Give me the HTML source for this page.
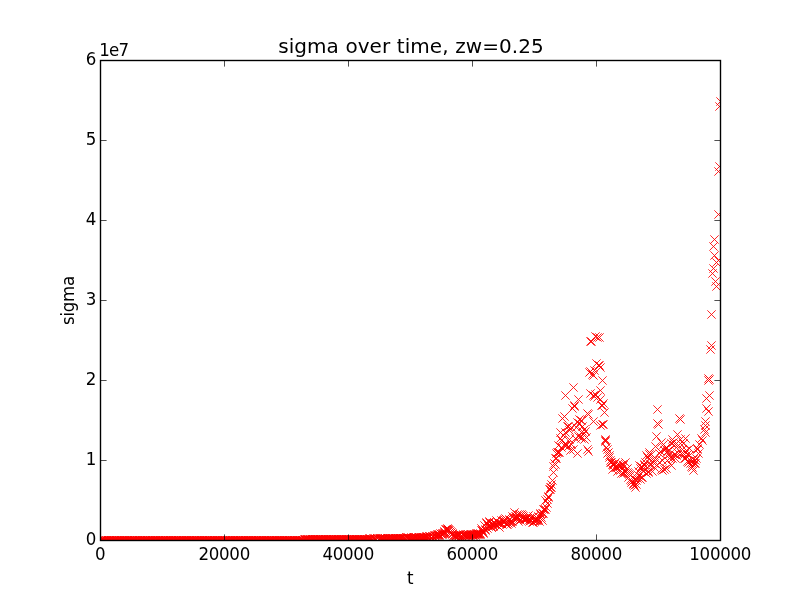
<!DOCTYPE html>
<html><head><meta charset="utf-8"><title>sigma over time</title>
<style>
html,body{margin:0;padding:0;background:#fff;}
body{width:800px;height:600px;overflow:hidden;position:relative;}
svg{position:absolute;left:0;top:0;display:block;}
text{font-family:"DejaVu Sans","Liberation Sans",sans-serif;fill:#000;}
.tk{font-size:16.67px;letter-spacing:-0.3px;}
.tt{font-size:20px;letter-spacing:0.08px;}
</style></head><body>
<svg width="800" height="600" viewBox="0 0 800 600">
<defs>
<g id="m"><path d="M-4.17,-4.17L4.17,4.17M-4.17,4.17L4.17,-4.17" stroke="#ff0000" stroke-width="0.85" fill="none"/></g>
<clipPath id="c"><rect x="100" y="60" width="620.5" height="480.5"/></clipPath>
</defs>
<rect width="800" height="600" fill="#fff"/>
<g clip-path="url(#c)">
<use href="#m" x="100.5" y="540.5"/>
<use href="#m" x="100.5" y="540.5"/>
<use href="#m" x="101.5" y="540.5"/>
<use href="#m" x="101.5" y="540.5"/>
<use href="#m" x="102.5" y="540.5"/>
<use href="#m" x="103.5" y="540.5"/>
<use href="#m" x="103.5" y="540.5"/>
<use href="#m" x="104.5" y="540.5"/>
<use href="#m" x="104.5" y="540.5"/>
<use href="#m" x="105.5" y="540.5"/>
<use href="#m" x="106.5" y="540.5"/>
<use href="#m" x="106.5" y="540.5"/>
<use href="#m" x="107.5" y="540.5"/>
<use href="#m" x="108.5" y="540.5"/>
<use href="#m" x="108.5" y="540.5"/>
<use href="#m" x="109.5" y="540.5"/>
<use href="#m" x="109.5" y="540.5"/>
<use href="#m" x="110.5" y="540.5"/>
<use href="#m" x="111.5" y="540.5"/>
<use href="#m" x="111.5" y="540.5"/>
<use href="#m" x="112.5" y="540.5"/>
<use href="#m" x="113.5" y="540.5"/>
<use href="#m" x="113.5" y="540.5"/>
<use href="#m" x="114.5" y="540.5"/>
<use href="#m" x="114.5" y="540.5"/>
<use href="#m" x="115.5" y="540.5"/>
<use href="#m" x="116.5" y="540.5"/>
<use href="#m" x="116.5" y="540.5"/>
<use href="#m" x="117.5" y="540.5"/>
<use href="#m" x="117.5" y="540.5"/>
<use href="#m" x="118.5" y="540.5"/>
<use href="#m" x="119.5" y="540.5"/>
<use href="#m" x="119.5" y="540.5"/>
<use href="#m" x="120.5" y="540.5"/>
<use href="#m" x="121.5" y="540.5"/>
<use href="#m" x="121.5" y="540.5"/>
<use href="#m" x="122.5" y="540.5"/>
<use href="#m" x="122.5" y="540.5"/>
<use href="#m" x="123.5" y="540.5"/>
<use href="#m" x="124.5" y="540.5"/>
<use href="#m" x="124.5" y="540.5"/>
<use href="#m" x="125.5" y="540.5"/>
<use href="#m" x="126.5" y="540.5"/>
<use href="#m" x="126.5" y="540.5"/>
<use href="#m" x="127.5" y="540.5"/>
<use href="#m" x="127.5" y="540.5"/>
<use href="#m" x="128.5" y="540.5"/>
<use href="#m" x="129.5" y="540.5"/>
<use href="#m" x="129.5" y="540.5"/>
<use href="#m" x="130.5" y="540.5"/>
<use href="#m" x="131.5" y="540.5"/>
<use href="#m" x="131.5" y="540.5"/>
<use href="#m" x="132.5" y="540.5"/>
<use href="#m" x="132.5" y="540.5"/>
<use href="#m" x="133.5" y="540.5"/>
<use href="#m" x="134.5" y="540.5"/>
<use href="#m" x="134.5" y="540.5"/>
<use href="#m" x="135.5" y="540.5"/>
<use href="#m" x="135.5" y="540.5"/>
<use href="#m" x="136.5" y="540.5"/>
<use href="#m" x="137.5" y="540.5"/>
<use href="#m" x="137.5" y="540.5"/>
<use href="#m" x="138.5" y="540.5"/>
<use href="#m" x="139.5" y="540.5"/>
<use href="#m" x="139.5" y="540.5"/>
<use href="#m" x="140.5" y="540.5"/>
<use href="#m" x="140.5" y="540.5"/>
<use href="#m" x="141.5" y="540.5"/>
<use href="#m" x="142.5" y="540.5"/>
<use href="#m" x="142.5" y="540.5"/>
<use href="#m" x="143.5" y="540.5"/>
<use href="#m" x="144.5" y="540.5"/>
<use href="#m" x="144.5" y="540.5"/>
<use href="#m" x="145.5" y="540.5"/>
<use href="#m" x="145.5" y="540.5"/>
<use href="#m" x="146.5" y="540.5"/>
<use href="#m" x="147.5" y="540.5"/>
<use href="#m" x="147.5" y="540.5"/>
<use href="#m" x="148.5" y="540.5"/>
<use href="#m" x="148.5" y="540.5"/>
<use href="#m" x="149.5" y="540.5"/>
<use href="#m" x="150.5" y="540.5"/>
<use href="#m" x="150.5" y="540.5"/>
<use href="#m" x="151.5" y="540.5"/>
<use href="#m" x="152.5" y="540.5"/>
<use href="#m" x="152.5" y="540.5"/>
<use href="#m" x="153.5" y="540.5"/>
<use href="#m" x="153.5" y="540.5"/>
<use href="#m" x="154.5" y="540.5"/>
<use href="#m" x="155.5" y="540.5"/>
<use href="#m" x="155.5" y="540.5"/>
<use href="#m" x="156.5" y="540.5"/>
<use href="#m" x="157.5" y="540.5"/>
<use href="#m" x="157.5" y="540.5"/>
<use href="#m" x="158.5" y="540.5"/>
<use href="#m" x="158.5" y="540.5"/>
<use href="#m" x="159.5" y="540.5"/>
<use href="#m" x="160.5" y="540.5"/>
<use href="#m" x="160.5" y="540.5"/>
<use href="#m" x="161.5" y="540.5"/>
<use href="#m" x="162.5" y="540.5"/>
<use href="#m" x="162.5" y="540.5"/>
<use href="#m" x="163.5" y="540.5"/>
<use href="#m" x="163.5" y="540.5"/>
<use href="#m" x="164.5" y="540.5"/>
<use href="#m" x="165.5" y="540.5"/>
<use href="#m" x="165.5" y="540.5"/>
<use href="#m" x="166.5" y="540.5"/>
<use href="#m" x="166.5" y="540.5"/>
<use href="#m" x="167.5" y="540.5"/>
<use href="#m" x="168.5" y="540.5"/>
<use href="#m" x="168.5" y="540.5"/>
<use href="#m" x="169.5" y="540.5"/>
<use href="#m" x="170.5" y="540.5"/>
<use href="#m" x="170.5" y="540.5"/>
<use href="#m" x="171.5" y="540.5"/>
<use href="#m" x="171.5" y="540.5"/>
<use href="#m" x="172.5" y="540.5"/>
<use href="#m" x="173.5" y="540.5"/>
<use href="#m" x="173.5" y="540.5"/>
<use href="#m" x="174.5" y="540.5"/>
<use href="#m" x="175.5" y="540.5"/>
<use href="#m" x="175.5" y="540.5"/>
<use href="#m" x="176.5" y="540.5"/>
<use href="#m" x="176.5" y="540.5"/>
<use href="#m" x="177.5" y="540.5"/>
<use href="#m" x="178.5" y="540.5"/>
<use href="#m" x="178.5" y="540.5"/>
<use href="#m" x="179.5" y="540.5"/>
<use href="#m" x="179.5" y="540.5"/>
<use href="#m" x="180.5" y="540.5"/>
<use href="#m" x="181.5" y="540.5"/>
<use href="#m" x="181.5" y="540.5"/>
<use href="#m" x="182.5" y="540.5"/>
<use href="#m" x="183.5" y="540.5"/>
<use href="#m" x="183.5" y="540.5"/>
<use href="#m" x="184.5" y="540.5"/>
<use href="#m" x="184.5" y="540.5"/>
<use href="#m" x="185.5" y="540.5"/>
<use href="#m" x="186.5" y="540.5"/>
<use href="#m" x="186.5" y="540.5"/>
<use href="#m" x="187.5" y="540.5"/>
<use href="#m" x="188.5" y="540.5"/>
<use href="#m" x="188.5" y="540.5"/>
<use href="#m" x="189.5" y="540.5"/>
<use href="#m" x="189.5" y="540.5"/>
<use href="#m" x="190.5" y="540.5"/>
<use href="#m" x="191.5" y="540.5"/>
<use href="#m" x="191.5" y="540.5"/>
<use href="#m" x="192.5" y="540.5"/>
<use href="#m" x="193.5" y="540.5"/>
<use href="#m" x="193.5" y="540.5"/>
<use href="#m" x="194.5" y="540.5"/>
<use href="#m" x="194.5" y="540.5"/>
<use href="#m" x="195.5" y="540.5"/>
<use href="#m" x="196.5" y="540.5"/>
<use href="#m" x="196.5" y="540.5"/>
<use href="#m" x="197.5" y="540.5"/>
<use href="#m" x="197.5" y="540.5"/>
<use href="#m" x="198.5" y="540.5"/>
<use href="#m" x="199.5" y="540.5"/>
<use href="#m" x="199.5" y="540.5"/>
<use href="#m" x="200.5" y="540.5"/>
<use href="#m" x="201.5" y="540.5"/>
<use href="#m" x="201.5" y="540.5"/>
<use href="#m" x="202.5" y="540.5"/>
<use href="#m" x="202.5" y="540.5"/>
<use href="#m" x="203.5" y="540.5"/>
<use href="#m" x="204.5" y="540.5"/>
<use href="#m" x="204.5" y="540.5"/>
<use href="#m" x="205.5" y="540.5"/>
<use href="#m" x="206.5" y="540.5"/>
<use href="#m" x="206.5" y="540.5"/>
<use href="#m" x="207.5" y="540.5"/>
<use href="#m" x="207.5" y="540.5"/>
<use href="#m" x="208.5" y="540.5"/>
<use href="#m" x="209.5" y="540.5"/>
<use href="#m" x="209.5" y="540.5"/>
<use href="#m" x="210.5" y="540.5"/>
<use href="#m" x="210.5" y="540.5"/>
<use href="#m" x="211.5" y="540.5"/>
<use href="#m" x="212.5" y="540.5"/>
<use href="#m" x="212.5" y="540.5"/>
<use href="#m" x="213.5" y="540.5"/>
<use href="#m" x="214.5" y="540.5"/>
<use href="#m" x="214.5" y="540.5"/>
<use href="#m" x="215.5" y="540.5"/>
<use href="#m" x="215.5" y="540.5"/>
<use href="#m" x="216.5" y="540.5"/>
<use href="#m" x="217.5" y="540.5"/>
<use href="#m" x="217.5" y="540.5"/>
<use href="#m" x="218.5" y="540.5"/>
<use href="#m" x="219.5" y="540.5"/>
<use href="#m" x="219.5" y="540.5"/>
<use href="#m" x="220.5" y="540.5"/>
<use href="#m" x="220.5" y="540.5"/>
<use href="#m" x="221.5" y="540.5"/>
<use href="#m" x="222.5" y="540.5"/>
<use href="#m" x="222.5" y="540.5"/>
<use href="#m" x="223.5" y="540.5"/>
<use href="#m" x="224.5" y="540.5"/>
<use href="#m" x="224.5" y="540.5"/>
<use href="#m" x="225.5" y="540.5"/>
<use href="#m" x="225.5" y="540.5"/>
<use href="#m" x="226.5" y="540.5"/>
<use href="#m" x="227.5" y="540.5"/>
<use href="#m" x="227.5" y="540.5"/>
<use href="#m" x="228.5" y="540.5"/>
<use href="#m" x="228.5" y="540.5"/>
<use href="#m" x="229.5" y="540.5"/>
<use href="#m" x="230.5" y="540.5"/>
<use href="#m" x="230.5" y="540.5"/>
<use href="#m" x="231.5" y="540.5"/>
<use href="#m" x="232.5" y="540.5"/>
<use href="#m" x="232.5" y="540.5"/>
<use href="#m" x="233.5" y="540.5"/>
<use href="#m" x="233.5" y="540.5"/>
<use href="#m" x="234.5" y="540.5"/>
<use href="#m" x="235.5" y="540.5"/>
<use href="#m" x="235.5" y="540.5"/>
<use href="#m" x="236.5" y="540.5"/>
<use href="#m" x="237.5" y="540.5"/>
<use href="#m" x="237.5" y="540.5"/>
<use href="#m" x="238.5" y="540.5"/>
<use href="#m" x="238.5" y="540.5"/>
<use href="#m" x="239.5" y="540.5"/>
<use href="#m" x="240.5" y="540.5"/>
<use href="#m" x="240.5" y="540.5"/>
<use href="#m" x="241.5" y="540.5"/>
<use href="#m" x="241.5" y="540.5"/>
<use href="#m" x="242.5" y="540.5"/>
<use href="#m" x="243.5" y="540.5"/>
<use href="#m" x="243.5" y="540.5"/>
<use href="#m" x="244.5" y="540.5"/>
<use href="#m" x="245.5" y="540.5"/>
<use href="#m" x="245.5" y="540.5"/>
<use href="#m" x="246.5" y="540.5"/>
<use href="#m" x="246.5" y="540.5"/>
<use href="#m" x="247.5" y="540.5"/>
<use href="#m" x="248.5" y="540.5"/>
<use href="#m" x="248.5" y="540.5"/>
<use href="#m" x="249.5" y="540.5"/>
<use href="#m" x="250.5" y="540.5"/>
<use href="#m" x="250.5" y="540.5"/>
<use href="#m" x="251.5" y="540.5"/>
<use href="#m" x="251.5" y="540.5"/>
<use href="#m" x="252.5" y="540.5"/>
<use href="#m" x="253.5" y="540.5"/>
<use href="#m" x="253.5" y="540.5"/>
<use href="#m" x="254.5" y="540.5"/>
<use href="#m" x="255.5" y="540.5"/>
<use href="#m" x="255.5" y="540.5"/>
<use href="#m" x="256.5" y="540.5"/>
<use href="#m" x="256.5" y="540.5"/>
<use href="#m" x="257.5" y="540.5"/>
<use href="#m" x="258.5" y="540.5"/>
<use href="#m" x="258.5" y="540.5"/>
<use href="#m" x="259.5" y="540.5"/>
<use href="#m" x="259.5" y="540.5"/>
<use href="#m" x="260.5" y="540.5"/>
<use href="#m" x="261.5" y="540.5"/>
<use href="#m" x="261.5" y="540.5"/>
<use href="#m" x="262.5" y="540.5"/>
<use href="#m" x="263.5" y="540.5"/>
<use href="#m" x="263.5" y="540.5"/>
<use href="#m" x="264.5" y="540.5"/>
<use href="#m" x="264.5" y="540.5"/>
<use href="#m" x="265.5" y="540.5"/>
<use href="#m" x="266.5" y="540.5"/>
<use href="#m" x="266.5" y="540.5"/>
<use href="#m" x="267.5" y="540.5"/>
<use href="#m" x="268.5" y="540.5"/>
<use href="#m" x="268.5" y="540.5"/>
<use href="#m" x="269.5" y="540.5"/>
<use href="#m" x="269.5" y="540.5"/>
<use href="#m" x="270.5" y="540.5"/>
<use href="#m" x="271.5" y="540.5"/>
<use href="#m" x="271.5" y="540.5"/>
<use href="#m" x="272.5" y="540.5"/>
<use href="#m" x="272.5" y="540.5"/>
<use href="#m" x="273.5" y="540.5"/>
<use href="#m" x="274.5" y="540.5"/>
<use href="#m" x="274.5" y="540.5"/>
<use href="#m" x="275.5" y="540.5"/>
<use href="#m" x="276.5" y="540.5"/>
<use href="#m" x="276.5" y="540.5"/>
<use href="#m" x="277.5" y="540.5"/>
<use href="#m" x="277.5" y="540.5"/>
<use href="#m" x="278.5" y="540.5"/>
<use href="#m" x="279.5" y="540.5"/>
<use href="#m" x="279.5" y="540.5"/>
<use href="#m" x="280.5" y="540.5"/>
<use href="#m" x="281.5" y="540.5"/>
<use href="#m" x="281.5" y="540.5"/>
<use href="#m" x="282.5" y="540.5"/>
<use href="#m" x="282.5" y="540.5"/>
<use href="#m" x="283.5" y="540.5"/>
<use href="#m" x="284.5" y="540.5"/>
<use href="#m" x="284.5" y="540.5"/>
<use href="#m" x="285.5" y="540.5"/>
<use href="#m" x="286.5" y="540.5"/>
<use href="#m" x="286.5" y="540.5"/>
<use href="#m" x="287.5" y="540.5"/>
<use href="#m" x="287.5" y="540.5"/>
<use href="#m" x="288.5" y="540.5"/>
<use href="#m" x="289.5" y="540.5"/>
<use href="#m" x="289.5" y="540.5"/>
<use href="#m" x="290.5" y="540.5"/>
<use href="#m" x="290.5" y="540.5"/>
<use href="#m" x="291.5" y="540.5"/>
<use href="#m" x="292.5" y="540.5"/>
<use href="#m" x="292.5" y="540.5"/>
<use href="#m" x="293.5" y="540.5"/>
<use href="#m" x="294.5" y="540.5"/>
<use href="#m" x="294.5" y="540.5"/>
<use href="#m" x="295.5" y="540.5"/>
<use href="#m" x="295.5" y="540.5"/>
<use href="#m" x="296.5" y="540.5"/>
<use href="#m" x="297.5" y="540.5"/>
<use href="#m" x="297.5" y="540.5"/>
<use href="#m" x="298.5" y="540.5"/>
<use href="#m" x="299.5" y="540.5"/>
<use href="#m" x="299.5" y="540.5"/>
<use href="#m" x="300.5" y="540.5"/>
<use href="#m" x="300.5" y="540.5"/>
<use href="#m" x="301.5" y="540.5"/>
<use href="#m" x="302.5" y="540.5"/>
<use href="#m" x="302.5" y="540.5"/>
<use href="#m" x="303.5" y="540.5"/>
<use href="#m" x="303.5" y="540.5"/>
<use href="#m" x="304.5" y="539.5"/>
<use href="#m" x="305.5" y="539.5"/>
<use href="#m" x="305.5" y="539.5"/>
<use href="#m" x="306.5" y="539.5"/>
<use href="#m" x="307.5" y="539.5"/>
<use href="#m" x="307.5" y="539.5"/>
<use href="#m" x="308.5" y="539.5"/>
<use href="#m" x="308.5" y="539.5"/>
<use href="#m" x="309.5" y="539.5"/>
<use href="#m" x="310.5" y="539.5"/>
<use href="#m" x="310.5" y="539.5"/>
<use href="#m" x="311.5" y="539.5"/>
<use href="#m" x="312.5" y="539.5"/>
<use href="#m" x="312.5" y="539.5"/>
<use href="#m" x="313.5" y="539.5"/>
<use href="#m" x="313.5" y="539.5"/>
<use href="#m" x="314.5" y="539.5"/>
<use href="#m" x="315.5" y="539.5"/>
<use href="#m" x="315.5" y="539.5"/>
<use href="#m" x="316.5" y="539.5"/>
<use href="#m" x="317.5" y="539.5"/>
<use href="#m" x="317.5" y="539.5"/>
<use href="#m" x="318.5" y="539.5"/>
<use href="#m" x="318.5" y="539.5"/>
<use href="#m" x="319.5" y="539.5"/>
<use href="#m" x="320.5" y="539.5"/>
<use href="#m" x="320.5" y="539.5"/>
<use href="#m" x="321.5" y="539.5"/>
<use href="#m" x="321.5" y="539.5"/>
<use href="#m" x="322.5" y="539.5"/>
<use href="#m" x="323.5" y="539.5"/>
<use href="#m" x="323.5" y="539.5"/>
<use href="#m" x="324.5" y="539.5"/>
<use href="#m" x="325.5" y="539.5"/>
<use href="#m" x="325.5" y="539.5"/>
<use href="#m" x="326.5" y="539.5"/>
<use href="#m" x="326.5" y="539.5"/>
<use href="#m" x="327.5" y="539.5"/>
<use href="#m" x="328.5" y="539.5"/>
<use href="#m" x="328.5" y="539.5"/>
<use href="#m" x="329.5" y="539.5"/>
<use href="#m" x="330.5" y="539.5"/>
<use href="#m" x="330.5" y="539.5"/>
<use href="#m" x="331.5" y="539.5"/>
<use href="#m" x="331.5" y="539.5"/>
<use href="#m" x="332.5" y="539.5"/>
<use href="#m" x="333.5" y="539.5"/>
<use href="#m" x="333.5" y="539.5"/>
<use href="#m" x="334.5" y="539.5"/>
<use href="#m" x="334.5" y="539.5"/>
<use href="#m" x="335.5" y="539.5"/>
<use href="#m" x="336.5" y="539.5"/>
<use href="#m" x="336.5" y="539.5"/>
<use href="#m" x="337.5" y="539.5"/>
<use href="#m" x="338.5" y="539.5"/>
<use href="#m" x="338.5" y="539.5"/>
<use href="#m" x="339.5" y="539.5"/>
<use href="#m" x="339.5" y="539.5"/>
<use href="#m" x="340.5" y="539.5"/>
<use href="#m" x="341.5" y="539.5"/>
<use href="#m" x="341.5" y="539.5"/>
<use href="#m" x="342.5" y="539.5"/>
<use href="#m" x="343.5" y="539.5"/>
<use href="#m" x="343.5" y="539.5"/>
<use href="#m" x="344.5" y="539.5"/>
<use href="#m" x="344.5" y="539.5"/>
<use href="#m" x="345.5" y="539.5"/>
<use href="#m" x="346.5" y="539.5"/>
<use href="#m" x="346.5" y="539.5"/>
<use href="#m" x="347.5" y="539.5"/>
<use href="#m" x="348.5" y="539.5"/>
<use href="#m" x="348.5" y="539.5"/>
<use href="#m" x="349.5" y="539.5"/>
<use href="#m" x="349.5" y="539.5"/>
<use href="#m" x="350.5" y="539.5"/>
<use href="#m" x="351.5" y="539.5"/>
<use href="#m" x="351.5" y="539.5"/>
<use href="#m" x="352.5" y="539.5"/>
<use href="#m" x="352.5" y="539.5"/>
<use href="#m" x="353.5" y="539.5"/>
<use href="#m" x="354.5" y="539.5"/>
<use href="#m" x="354.5" y="539.5"/>
<use href="#m" x="355.5" y="539.5"/>
<use href="#m" x="356.5" y="539.5"/>
<use href="#m" x="356.5" y="539.5"/>
<use href="#m" x="357.5" y="539.5"/>
<use href="#m" x="357.5" y="539.5"/>
<use href="#m" x="358.5" y="539.5"/>
<use href="#m" x="359.5" y="539.5"/>
<use href="#m" x="359.5" y="539.5"/>
<use href="#m" x="360.5" y="539.5"/>
<use href="#m" x="361.5" y="539.5"/>
<use href="#m" x="361.5" y="539.5"/>
<use href="#m" x="362.5" y="539.5"/>
<use href="#m" x="362.5" y="539.5"/>
<use href="#m" x="363.5" y="539.5"/>
<use href="#m" x="364.5" y="539.5"/>
<use href="#m" x="364.5" y="539.5"/>
<use href="#m" x="365.5" y="539.5"/>
<use href="#m" x="365.5" y="539.5"/>
<use href="#m" x="366.5" y="539.5"/>
<use href="#m" x="367.5" y="539.5"/>
<use href="#m" x="367.5" y="539.5"/>
<use href="#m" x="368.5" y="539.5"/>
<use href="#m" x="369.5" y="539.5"/>
<use href="#m" x="369.5" y="538.5"/>
<use href="#m" x="370.5" y="539.5"/>
<use href="#m" x="370.5" y="538.5"/>
<use href="#m" x="371.5" y="539.5"/>
<use href="#m" x="372.5" y="539.5"/>
<use href="#m" x="372.5" y="539.5"/>
<use href="#m" x="373.5" y="538.5"/>
<use href="#m" x="374.5" y="538.5"/>
<use href="#m" x="374.5" y="539.5"/>
<use href="#m" x="375.5" y="539.5"/>
<use href="#m" x="375.5" y="538.5"/>
<use href="#m" x="376.5" y="539.5"/>
<use href="#m" x="377.5" y="538.5"/>
<use href="#m" x="377.5" y="538.5"/>
<use href="#m" x="378.5" y="539.5"/>
<use href="#m" x="379.5" y="538.5"/>
<use href="#m" x="379.5" y="539.5"/>
<use href="#m" x="380.5" y="538.5"/>
<use href="#m" x="380.5" y="538.5"/>
<use href="#m" x="381.5" y="538.5"/>
<use href="#m" x="382.5" y="538.5"/>
<use href="#m" x="382.5" y="539.5"/>
<use href="#m" x="383.5" y="539.5"/>
<use href="#m" x="383.5" y="538.5"/>
<use href="#m" x="384.5" y="538.5"/>
<use href="#m" x="385.5" y="538.5"/>
<use href="#m" x="385.5" y="539.5"/>
<use href="#m" x="386.5" y="539.5"/>
<use href="#m" x="387.5" y="538.5"/>
<use href="#m" x="387.5" y="539.5"/>
<use href="#m" x="388.5" y="538.5"/>
<use href="#m" x="388.5" y="538.5"/>
<use href="#m" x="389.5" y="538.5"/>
<use href="#m" x="390.5" y="538.5"/>
<use href="#m" x="390.5" y="538.5"/>
<use href="#m" x="391.5" y="538.5"/>
<use href="#m" x="392.5" y="538.5"/>
<use href="#m" x="392.5" y="538.5"/>
<use href="#m" x="393.5" y="538.5"/>
<use href="#m" x="393.5" y="538.5"/>
<use href="#m" x="394.5" y="538.5"/>
<use href="#m" x="395.5" y="538.5"/>
<use href="#m" x="395.5" y="538.5"/>
<use href="#m" x="396.5" y="538.5"/>
<use href="#m" x="396.5" y="538.5"/>
<use href="#m" x="397.5" y="538.5"/>
<use href="#m" x="398.5" y="538.5"/>
<use href="#m" x="398.5" y="538.5"/>
<use href="#m" x="399.5" y="538.5"/>
<use href="#m" x="400.5" y="538.5"/>
<use href="#m" x="400.5" y="538.5"/>
<use href="#m" x="401.5" y="538.5"/>
<use href="#m" x="401.5" y="538.5"/>
<use href="#m" x="402.5" y="538.5"/>
<use href="#m" x="403.5" y="538.5"/>
<use href="#m" x="403.5" y="538.5"/>
<use href="#m" x="404.5" y="538.5"/>
<use href="#m" x="405.5" y="538.5"/>
<use href="#m" x="405.5" y="538.5"/>
<use href="#m" x="406.5" y="537.5"/>
<use href="#m" x="406.5" y="537.5"/>
<use href="#m" x="407.5" y="537.5"/>
<use href="#m" x="408.5" y="538.5"/>
<use href="#m" x="408.5" y="537.5"/>
<use href="#m" x="409.5" y="538.5"/>
<use href="#m" x="410.5" y="538.5"/>
<use href="#m" x="410.5" y="538.5"/>
<use href="#m" x="411.5" y="538.5"/>
<use href="#m" x="411.5" y="537.5"/>
<use href="#m" x="412.5" y="538.5"/>
<use href="#m" x="413.5" y="537.5"/>
<use href="#m" x="413.5" y="538.5"/>
<use href="#m" x="414.5" y="537.5"/>
<use href="#m" x="414.5" y="538.5"/>
<use href="#m" x="415.5" y="537.5"/>
<use href="#m" x="416.5" y="538.5"/>
<use href="#m" x="416.5" y="537.5"/>
<use href="#m" x="417.5" y="538.5"/>
<use href="#m" x="418.5" y="538.5"/>
<use href="#m" x="418.5" y="537.5"/>
<use href="#m" x="419.5" y="537.5"/>
<use href="#m" x="419.5" y="537.5"/>
<use href="#m" x="420.5" y="537.5"/>
<use href="#m" x="421.5" y="538.5"/>
<use href="#m" x="421.5" y="537.5"/>
<use href="#m" x="422.5" y="537.5"/>
<use href="#m" x="423.5" y="537.5"/>
<use href="#m" x="423.5" y="537.5"/>
<use href="#m" x="424.5" y="537.5"/>
<use href="#m" x="424.5" y="537.5"/>
<use href="#m" x="425.5" y="537.5"/>
<use href="#m" x="426.5" y="536.5"/>
<use href="#m" x="426.5" y="537.5"/>
<use href="#m" x="427.5" y="536.5"/>
<use href="#m" x="427.5" y="537.5"/>
<use href="#m" x="428.5" y="537.5"/>
<use href="#m" x="429.5" y="536.5"/>
<use href="#m" x="429.5" y="536.5"/>
<use href="#m" x="430.5" y="536.5"/>
<use href="#m" x="431.5" y="537.5"/>
<use href="#m" x="431.5" y="537.5"/>
<use href="#m" x="432.5" y="536.5"/>
<use href="#m" x="432.5" y="536.5"/>
<use href="#m" x="433.5" y="536.5"/>
<use href="#m" x="434.5" y="535.5"/>
<use href="#m" x="435.5" y="535.5"/>
<use href="#m" x="435.5" y="536.5"/>
<use href="#m" x="436.5" y="535.5"/>
<use href="#m" x="437.5" y="535.5"/>
<use href="#m" x="438.5" y="535.5"/>
<use href="#m" x="437.5" y="534.5"/>
<use href="#m" x="438.5" y="534.5"/>
<use href="#m" x="439.5" y="534.5"/>
<use href="#m" x="439.5" y="535.5"/>
<use href="#m" x="440.5" y="533.5"/>
<use href="#m" x="441.5" y="534.5"/>
<use href="#m" x="442.5" y="534.5"/>
<use href="#m" x="442.5" y="533.5"/>
<use href="#m" x="443.5" y="533.5"/>
<use href="#m" x="444.5" y="533.5"/>
<use href="#m" x="444.5" y="531.5"/>
<use href="#m" x="444.5" y="532.5"/>
<use href="#m" x="445.5" y="529.5"/>
<use href="#m" x="446.5" y="529.5"/>
<use href="#m" x="447.5" y="529.5"/>
<use href="#m" x="447.5" y="528.5"/>
<use href="#m" x="448.5" y="529.5"/>
<use href="#m" x="448.5" y="530.5"/>
<use href="#m" x="449.5" y="530.5"/>
<use href="#m" x="449.5" y="532.5"/>
<use href="#m" x="450.5" y="531.5"/>
<use href="#m" x="450.5" y="533.5"/>
<use href="#m" x="451.5" y="532.5"/>
<use href="#m" x="452.5" y="534.5"/>
<use href="#m" x="452.5" y="533.5"/>
<use href="#m" x="453.5" y="535.5"/>
<use href="#m" x="454.5" y="535.5"/>
<use href="#m" x="455.5" y="535.5"/>
<use href="#m" x="456.5" y="535.5"/>
<use href="#m" x="455.5" y="536.5"/>
<use href="#m" x="457.5" y="535.5"/>
<use href="#m" x="458.5" y="535.5"/>
<use href="#m" x="457.5" y="534.5"/>
<use href="#m" x="459.5" y="535.5"/>
<use href="#m" x="458.5" y="536.5"/>
<use href="#m" x="459.5" y="534.5"/>
<use href="#m" x="460.5" y="536.5"/>
<use href="#m" x="460.5" y="534.5"/>
<use href="#m" x="461.5" y="535.5"/>
<use href="#m" x="462.5" y="536.5"/>
<use href="#m" x="462.5" y="536.5"/>
<use href="#m" x="463.5" y="534.5"/>
<use href="#m" x="463.5" y="535.5"/>
<use href="#m" x="464.5" y="535.5"/>
<use href="#m" x="465.5" y="535.5"/>
<use href="#m" x="466.5" y="535.5"/>
<use href="#m" x="466.5" y="534.5"/>
<use href="#m" x="467.5" y="535.5"/>
<use href="#m" x="468.5" y="535.5"/>
<use href="#m" x="468.5" y="534.5"/>
<use href="#m" x="469.5" y="535.5"/>
<use href="#m" x="470.5" y="535.5"/>
<use href="#m" x="470.5" y="534.5"/>
<use href="#m" x="471.5" y="534.5"/>
<use href="#m" x="472.5" y="534.5"/>
<use href="#m" x="473.5" y="534.5"/>
<use href="#m" x="472.5" y="535.5"/>
<use href="#m" x="474.5" y="534.5"/>
<use href="#m" x="473.5" y="535.5"/>
<use href="#m" x="475.5" y="534.5"/>
<use href="#m" x="476.5" y="534.5"/>
<use href="#m" x="475.5" y="535.5"/>
<use href="#m" x="477.5" y="534.5"/>
<use href="#m" x="476.5" y="533.5"/>
<use href="#m" x="477.5" y="533.5"/>
<use href="#m" x="478.5" y="533.5"/>
<use href="#m" x="478.5" y="534.5"/>
<use href="#m" x="479.5" y="534.5"/>
<use href="#m" x="480.5" y="533.5"/>
<use href="#m" x="480.5" y="534.5"/>
<use href="#m" x="481.5" y="530.5"/>
<use href="#m" x="481.5" y="528.5"/>
<use href="#m" x="482.5" y="530.5"/>
<use href="#m" x="483.5" y="533.5"/>
<use href="#m" x="483.5" y="532.5"/>
<use href="#m" x="484.5" y="525.5"/>
<use href="#m" x="485.5" y="529.5"/>
<use href="#m" x="485.5" y="530.5"/>
<use href="#m" x="486.5" y="522.5"/>
<use href="#m" x="486.5" y="523.5"/>
<use href="#m" x="487.5" y="528.5"/>
<use href="#m" x="488.5" y="526.5"/>
<use href="#m" x="488.5" y="525.5"/>
<use href="#m" x="489.5" y="521.5"/>
<use href="#m" x="489.5" y="522.5"/>
<use href="#m" x="490.5" y="526.5"/>
<use href="#m" x="491.5" y="526.5"/>
<use href="#m" x="491.5" y="527.5"/>
<use href="#m" x="492.5" y="523.5"/>
<use href="#m" x="493.5" y="525.5"/>
<use href="#m" x="493.5" y="526.5"/>
<use href="#m" x="494.5" y="522.5"/>
<use href="#m" x="494.5" y="523.5"/>
<use href="#m" x="495.5" y="524.5"/>
<use href="#m" x="496.5" y="520.5"/>
<use href="#m" x="496.5" y="524.5"/>
<use href="#m" x="497.5" y="525.5"/>
<use href="#m" x="498.5" y="523.5"/>
<use href="#m" x="498.5" y="522.5"/>
<use href="#m" x="499.5" y="527.5"/>
<use href="#m" x="499.5" y="523.5"/>
<use href="#m" x="500.5" y="523.5"/>
<use href="#m" x="501.5" y="523.5"/>
<use href="#m" x="501.5" y="520.5"/>
<use href="#m" x="502.5" y="524.5"/>
<use href="#m" x="503.5" y="521.5"/>
<use href="#m" x="503.5" y="520.5"/>
<use href="#m" x="504.5" y="521.5"/>
<use href="#m" x="504.5" y="519.5"/>
<use href="#m" x="505.5" y="518.5"/>
<use href="#m" x="506.5" y="519.5"/>
<use href="#m" x="506.5" y="524.5"/>
<use href="#m" x="507.5" y="522.5"/>
<use href="#m" x="507.5" y="524.5"/>
<use href="#m" x="508.5" y="523.5"/>
<use href="#m" x="509.5" y="519.5"/>
<use href="#m" x="509.5" y="522.5"/>
<use href="#m" x="510.5" y="521.5"/>
<use href="#m" x="511.5" y="523.5"/>
<use href="#m" x="511.5" y="521.5"/>
<use href="#m" x="512.5" y="516.5"/>
<use href="#m" x="512.5" y="521.5"/>
<use href="#m" x="513.5" y="518.5"/>
<use href="#m" x="514.5" y="517.5"/>
<use href="#m" x="514.5" y="512.5"/>
<use href="#m" x="515.5" y="516.5"/>
<use href="#m" x="516.5" y="518.5"/>
<use href="#m" x="516.5" y="516.5"/>
<use href="#m" x="517.5" y="514.5"/>
<use href="#m" x="517.5" y="518.5"/>
<use href="#m" x="518.5" y="521.5"/>
<use href="#m" x="519.5" y="518.5"/>
<use href="#m" x="519.5" y="514.5"/>
<use href="#m" x="520.5" y="515.5"/>
<use href="#m" x="520.5" y="520.5"/>
<use href="#m" x="521.5" y="514.5"/>
<use href="#m" x="522.5" y="518.5"/>
<use href="#m" x="522.5" y="515.5"/>
<use href="#m" x="523.5" y="516.5"/>
<use href="#m" x="524.5" y="519.5"/>
<use href="#m" x="524.5" y="518.5"/>
<use href="#m" x="525.5" y="519.5"/>
<use href="#m" x="526.5" y="519.5"/>
<use href="#m" x="526.5" y="518.5"/>
<use href="#m" x="527.5" y="516.5"/>
<use href="#m" x="527.5" y="518.5"/>
<use href="#m" x="528.5" y="515.5"/>
<use href="#m" x="529.5" y="521.5"/>
<use href="#m" x="529.5" y="519.5"/>
<use href="#m" x="530.5" y="517.5"/>
<use href="#m" x="530.5" y="519.5"/>
<use href="#m" x="531.5" y="520.5"/>
<use href="#m" x="532.5" y="522.5"/>
<use href="#m" x="533.5" y="522.5"/>
<use href="#m" x="533.5" y="516.5"/>
<use href="#m" x="534.5" y="520.5"/>
<use href="#m" x="534.5" y="521.5"/>
<use href="#m" x="535.5" y="520.5"/>
<use href="#m" x="535.5" y="519.5"/>
<use href="#m" x="536.5" y="520.5"/>
<use href="#m" x="537.5" y="518.5"/>
<use href="#m" x="537.5" y="520.5"/>
<use href="#m" x="538.5" y="516.5"/>
<use href="#m" x="538.5" y="519.5"/>
<use href="#m" x="539.5" y="521.5"/>
<use href="#m" x="540.5" y="514.5"/>
<use href="#m" x="540.5" y="513.5"/>
<use href="#m" x="541.5" y="517.5"/>
<use href="#m" x="542.5" y="513.5"/>
<use href="#m" x="542.5" y="520.5"/>
<use href="#m" x="543.5" y="513.5"/>
<use href="#m" x="543.5" y="509.5"/>
<use href="#m" x="544.5" y="509.5"/>
<use href="#m" x="545.5" y="500.5"/>
<use href="#m" x="545.5" y="509.5"/>
<use href="#m" x="546.5" y="507.5"/>
<use href="#m" x="547.5" y="503.5"/>
<use href="#m" x="547.5" y="499.5"/>
<use href="#m" x="548.5" y="497.5"/>
<use href="#m" x="548.5" y="496.5"/>
<use href="#m" x="549.5" y="489.5"/>
<use href="#m" x="550.5" y="489.5"/>
<use href="#m" x="550.5" y="487.5"/>
<use href="#m" x="551.5" y="487.5"/>
<use href="#m" x="551.5" y="484.5"/>
<use href="#m" x="552.5" y="480.5"/>
<use href="#m" x="553.5" y="466.5"/>
<use href="#m" x="553.5" y="472.5"/>
<use href="#m" x="554.5" y="463.5"/>
<use href="#m" x="555.5" y="458.5"/>
<use href="#m" x="555.5" y="464.5"/>
<use href="#m" x="556.5" y="453.5"/>
<use href="#m" x="556.5" y="458.5"/>
<use href="#m" x="557.5" y="452.5"/>
<use href="#m" x="558.5" y="452.5"/>
<use href="#m" x="558.5" y="445.5"/>
<use href="#m" x="559.5" y="452.5"/>
<use href="#m" x="560.5" y="432.5"/>
<use href="#m" x="560.5" y="438.5"/>
<use href="#m" x="561.5" y="447.5"/>
<use href="#m" x="561.5" y="440.5"/>
<use href="#m" x="562.5" y="418.5"/>
<use href="#m" x="563.5" y="435.5"/>
<use href="#m" x="564.5" y="416.5"/>
<use href="#m" x="564.5" y="445.5"/>
<use href="#m" x="565.5" y="432.5"/>
<use href="#m" x="565.5" y="395.5"/>
<use href="#m" x="566.5" y="445.5"/>
<use href="#m" x="566.5" y="444.5"/>
<use href="#m" x="567.5" y="426.5"/>
<use href="#m" x="568.5" y="426.5"/>
<use href="#m" x="568.5" y="446.5"/>
<use href="#m" x="569.5" y="430.5"/>
<use href="#m" x="569.5" y="439.5"/>
<use href="#m" x="570.5" y="450.5"/>
<use href="#m" x="571.5" y="427.5"/>
<use href="#m" x="571.5" y="444.5"/>
<use href="#m" x="572.5" y="408.5"/>
<use href="#m" x="573.5" y="449.5"/>
<use href="#m" x="573.5" y="387.5"/>
<use href="#m" x="574.5" y="405.5"/>
<use href="#m" x="574.5" y="406.5"/>
<use href="#m" x="575.5" y="438.5"/>
<use href="#m" x="576.5" y="427.5"/>
<use href="#m" x="577.5" y="422.5"/>
<use href="#m" x="577.5" y="453.5"/>
<use href="#m" x="578.5" y="436.5"/>
<use href="#m" x="578.5" y="399.5"/>
<use href="#m" x="579.5" y="419.5"/>
<use href="#m" x="579.5" y="423.5"/>
<use href="#m" x="580.5" y="436.5"/>
<use href="#m" x="581.5" y="420.5"/>
<use href="#m" x="581.5" y="438.5"/>
<use href="#m" x="582.5" y="426.5"/>
<use href="#m" x="582.5" y="431.5"/>
<use href="#m" x="583.5" y="434.5"/>
<use href="#m" x="584.5" y="429.5"/>
<use href="#m" x="584.5" y="439.5"/>
<use href="#m" x="585.5" y="431.5"/>
<use href="#m" x="586.5" y="437.5"/>
<use href="#m" x="587.5" y="413.5"/>
<use href="#m" x="587.5" y="449.5"/>
<use href="#m" x="588.5" y="414.5"/>
<use href="#m" x="588.5" y="451.5"/>
<use href="#m" x="589.5" y="372.5"/>
<use href="#m" x="590.5" y="393.5"/>
<use href="#m" x="590.5" y="371.5"/>
<use href="#m" x="590.5" y="341.5"/>
<use href="#m" x="591.5" y="341.5"/>
<use href="#m" x="592.5" y="374.5"/>
<use href="#m" x="593.5" y="375.5"/>
<use href="#m" x="593.5" y="395.5"/>
<use href="#m" x="593.5" y="421.5"/>
<use href="#m" x="594.5" y="370.5"/>
<use href="#m" x="594.5" y="396.5"/>
<use href="#m" x="595.5" y="336.5"/>
<use href="#m" x="595.5" y="394.5"/>
<use href="#m" x="596.5" y="363.5"/>
<use href="#m" x="597.5" y="337.5"/>
<use href="#m" x="597.5" y="397.5"/>
<use href="#m" x="598.5" y="365.5"/>
<use href="#m" x="599.5" y="337.5"/>
<use href="#m" x="599.5" y="365.5"/>
<use href="#m" x="600.5" y="367.5"/>
<use href="#m" x="600.5" y="390.5"/>
<use href="#m" x="600.5" y="425.5"/>
<use href="#m" x="600.5" y="399.5"/>
<use href="#m" x="601.5" y="405.5"/>
<use href="#m" x="602.5" y="405.5"/>
<use href="#m" x="602.5" y="424.5"/>
<use href="#m" x="602.5" y="380.5"/>
<use href="#m" x="603.5" y="424.5"/>
<use href="#m" x="603.5" y="403.5"/>
<use href="#m" x="604.5" y="412.5"/>
<use href="#m" x="605.5" y="439.5"/>
<use href="#m" x="605.5" y="440.5"/>
<use href="#m" x="605.5" y="441.5"/>
<use href="#m" x="606.5" y="447.5"/>
<use href="#m" x="607.5" y="449.5"/>
<use href="#m" x="607.5" y="453.5"/>
<use href="#m" x="608.5" y="452.5"/>
<use href="#m" x="609.5" y="457.5"/>
<use href="#m" x="609.5" y="455.5"/>
<use href="#m" x="610.5" y="462.5"/>
<use href="#m" x="610.5" y="460.5"/>
<use href="#m" x="611.5" y="462.5"/>
<use href="#m" x="612.5" y="469.5"/>
<use href="#m" x="612.5" y="464.5"/>
<use href="#m" x="613.5" y="465.5"/>
<use href="#m" x="613.5" y="464.5"/>
<use href="#m" x="614.5" y="463.5"/>
<use href="#m" x="615.5" y="462.5"/>
<use href="#m" x="615.5" y="467.5"/>
<use href="#m" x="616.5" y="467.5"/>
<use href="#m" x="617.5" y="471.5"/>
<use href="#m" x="617.5" y="467.5"/>
<use href="#m" x="618.5" y="465.5"/>
<use href="#m" x="618.5" y="463.5"/>
<use href="#m" x="619.5" y="466.5"/>
<use href="#m" x="620.5" y="465.5"/>
<use href="#m" x="620.5" y="470.5"/>
<use href="#m" x="621.5" y="473.5"/>
<use href="#m" x="622.5" y="464.5"/>
<use href="#m" x="622.5" y="468.5"/>
<use href="#m" x="623.5" y="465.5"/>
<use href="#m" x="623.5" y="473.5"/>
<use href="#m" x="624.5" y="471.5"/>
<use href="#m" x="625.5" y="462.5"/>
<use href="#m" x="625.5" y="472.5"/>
<use href="#m" x="626.5" y="469.5"/>
<use href="#m" x="627.5" y="472.5"/>
<use href="#m" x="627.5" y="468.5"/>
<use href="#m" x="628.5" y="473.5"/>
<use href="#m" x="628.5" y="477.5"/>
<use href="#m" x="629.5" y="474.5"/>
<use href="#m" x="630.5" y="475.5"/>
<use href="#m" x="630.5" y="479.5"/>
<use href="#m" x="631.5" y="480.5"/>
<use href="#m" x="631.5" y="482.5"/>
<use href="#m" x="632.5" y="481.5"/>
<use href="#m" x="633.5" y="483.5"/>
<use href="#m" x="633.5" y="484.5"/>
<use href="#m" x="634.5" y="485.5"/>
<use href="#m" x="635.5" y="487.5"/>
<use href="#m" x="635.5" y="479.5"/>
<use href="#m" x="636.5" y="484.5"/>
<use href="#m" x="636.5" y="480.5"/>
<use href="#m" x="637.5" y="478.5"/>
<use href="#m" x="638.5" y="471.5"/>
<use href="#m" x="638.5" y="475.5"/>
<use href="#m" x="639.5" y="465.5"/>
<use href="#m" x="640.5" y="479.5"/>
<use href="#m" x="640.5" y="468.5"/>
<use href="#m" x="641.5" y="477.5"/>
<use href="#m" x="641.5" y="466.5"/>
<use href="#m" x="642.5" y="477.5"/>
<use href="#m" x="643.5" y="468.5"/>
<use href="#m" x="643.5" y="471.5"/>
<use href="#m" x="644.5" y="465.5"/>
<use href="#m" x="644.5" y="464.5"/>
<use href="#m" x="645.5" y="462.5"/>
<use href="#m" x="646.5" y="455.5"/>
<use href="#m" x="646.5" y="473.5"/>
<use href="#m" x="647.5" y="457.5"/>
<use href="#m" x="648.5" y="471.5"/>
<use href="#m" x="648.5" y="472.5"/>
<use href="#m" x="649.5" y="454.5"/>
<use href="#m" x="649.5" y="452.5"/>
<use href="#m" x="650.5" y="464.5"/>
<use href="#m" x="651.5" y="460.5"/>
<use href="#m" x="651.5" y="454.5"/>
<use href="#m" x="652.5" y="471.5"/>
<use href="#m" x="653.5" y="460.5"/>
<use href="#m" x="653.5" y="462.5"/>
<use href="#m" x="654.5" y="463.5"/>
<use href="#m" x="654.5" y="467.5"/>
<use href="#m" x="655.5" y="446.5"/>
<use href="#m" x="656.5" y="459.5"/>
<use href="#m" x="656.5" y="436.5"/>
<use href="#m" x="657.5" y="409.5"/>
<use href="#m" x="657.5" y="423.5"/>
<use href="#m" x="658.5" y="424.5"/>
<use href="#m" x="659.5" y="453.5"/>
<use href="#m" x="659.5" y="462.5"/>
<use href="#m" x="660.5" y="451.5"/>
<use href="#m" x="661.5" y="442.5"/>
<use href="#m" x="661.5" y="469.5"/>
<use href="#m" x="662.5" y="470.5"/>
<use href="#m" x="662.5" y="460.5"/>
<use href="#m" x="663.5" y="444.5"/>
<use href="#m" x="664.5" y="469.5"/>
<use href="#m" x="664.5" y="450.5"/>
<use href="#m" x="665.5" y="448.5"/>
<use href="#m" x="666.5" y="468.5"/>
<use href="#m" x="666.5" y="447.5"/>
<use href="#m" x="667.5" y="451.5"/>
<use href="#m" x="667.5" y="460.5"/>
<use href="#m" x="668.5" y="450.5"/>
<use href="#m" x="669.5" y="458.5"/>
<use href="#m" x="669.5" y="454.5"/>
<use href="#m" x="670.5" y="457.5"/>
<use href="#m" x="671.5" y="465.5"/>
<use href="#m" x="671.5" y="443.5"/>
<use href="#m" x="672.5" y="458.5"/>
<use href="#m" x="672.5" y="439.5"/>
<use href="#m" x="673.5" y="442.5"/>
<use href="#m" x="674.5" y="445.5"/>
<use href="#m" x="674.5" y="454.5"/>
<use href="#m" x="675.5" y="458.5"/>
<use href="#m" x="675.5" y="444.5"/>
<use href="#m" x="676.5" y="455.5"/>
<use href="#m" x="677.5" y="434.5"/>
<use href="#m" x="677.5" y="452.5"/>
<use href="#m" x="678.5" y="445.5"/>
<use href="#m" x="679.5" y="418.5"/>
<use href="#m" x="680.5" y="419.5"/>
<use href="#m" x="680.5" y="443.5"/>
<use href="#m" x="680.5" y="439.5"/>
<use href="#m" x="681.5" y="453.5"/>
<use href="#m" x="682.5" y="449.5"/>
<use href="#m" x="682.5" y="454.5"/>
<use href="#m" x="683.5" y="443.5"/>
<use href="#m" x="684.5" y="454.5"/>
<use href="#m" x="684.5" y="458.5"/>
<use href="#m" x="685.5" y="458.5"/>
<use href="#m" x="685.5" y="438.5"/>
<use href="#m" x="686.5" y="450.5"/>
<use href="#m" x="687.5" y="454.5"/>
<use href="#m" x="687.5" y="461.5"/>
<use href="#m" x="688.5" y="462.5"/>
<use href="#m" x="689.5" y="448.5"/>
<use href="#m" x="689.5" y="455.5"/>
<use href="#m" x="690.5" y="463.5"/>
<use href="#m" x="690.5" y="460.5"/>
<use href="#m" x="691.5" y="466.5"/>
<use href="#m" x="692.5" y="463.5"/>
<use href="#m" x="692.5" y="467.5"/>
<use href="#m" x="693.5" y="470.5"/>
<use href="#m" x="693.5" y="459.5"/>
<use href="#m" x="694.5" y="463.5"/>
<use href="#m" x="695.5" y="463.5"/>
<use href="#m" x="695.5" y="460.5"/>
<use href="#m" x="696.5" y="458.5"/>
<use href="#m" x="697.5" y="448.5"/>
<use href="#m" x="697.5" y="449.5"/>
<use href="#m" x="698.5" y="453.5"/>
<use href="#m" x="699.5" y="444.5"/>
<use href="#m" x="701.5" y="438.5"/>
<use href="#m" x="702.5" y="440.5"/>
<use href="#m" x="704.5" y="429.5"/>
<use href="#m" x="705.5" y="425.5"/>
<use href="#m" x="705.5" y="432.5"/>
<use href="#m" x="705.5" y="421.5"/>
<use href="#m" x="706.5" y="398.5"/>
<use href="#m" x="706.5" y="408.5"/>
<use href="#m" x="708.5" y="411.5"/>
<use href="#m" x="708.5" y="378.5"/>
<use href="#m" x="708.5" y="380.5"/>
<use href="#m" x="709.5" y="395.5"/>
<use href="#m" x="709.5" y="379.5"/>
<use href="#m" x="710.5" y="349.5"/>
<use href="#m" x="711.5" y="314.5"/>
<use href="#m" x="711.5" y="345.5"/>
<use href="#m" x="712.5" y="273.5"/>
<use href="#m" x="713.5" y="246.5"/>
<use href="#m" x="713.5" y="268.5"/>
<use href="#m" x="714.5" y="239.5"/>
<use href="#m" x="714.5" y="255.5"/>
<use href="#m" x="715.5" y="281.5"/>
<use href="#m" x="716.5" y="286.5"/>
<use href="#m" x="716.5" y="262.5"/>
<use href="#m" x="718.5" y="260.5"/>
<use href="#m" x="718.5" y="171.5"/>
<use href="#m" x="718.5" y="214.5"/>
<use href="#m" x="719.5" y="166.5"/>
<use href="#m" x="719.5" y="106.5"/>
<use href="#m" x="720.5" y="101.5"/>
</g>
<g stroke="#000" stroke-width="0.69" fill="none">
<path d="M224.5,540.5V534.4M224.5,60.5V66.6"/>
<path d="M348.5,540.5V534.4M348.5,60.5V66.6"/>
<path d="M472.5,540.5V534.4M472.5,60.5V66.6"/>
<path d="M596.5,540.5V534.4M596.5,60.5V66.6"/>
<path d="M100.5,460.5H106.6M720.5,460.5H714.4"/>
<path d="M100.5,380.5H106.6M720.5,380.5H714.4"/>
<path d="M100.5,300.5H106.6M720.5,300.5H714.4"/>
<path d="M100.5,220.5H106.6M720.5,220.5H714.4"/>
<path d="M100.5,140.5H106.6M720.5,140.5H714.4"/>
</g>
<rect x="100.5" y="60.5" width="620" height="480" stroke="#000" stroke-width="1.39" fill="none"/>
<g class="tk">
<text transform="translate(100.2,559.9) scale(1,1.055)" text-anchor="middle">0</text>
<text transform="translate(224.2,559.9) scale(1,1.055)" text-anchor="middle">20000</text>
<text transform="translate(348.2,559.9) scale(1,1.055)" text-anchor="middle">40000</text>
<text transform="translate(472.2,559.9) scale(1,1.055)" text-anchor="middle">60000</text>
<text transform="translate(596.2,559.9) scale(1,1.055)" text-anchor="middle">80000</text>
<text transform="translate(720.2,559.9) scale(1,1.055)" text-anchor="middle">100000</text>
<text transform="translate(96,544.5) scale(1,1.055)" text-anchor="end">0</text>
<text transform="translate(96,464.5) scale(1,1.055)" text-anchor="end">1</text>
<text transform="translate(96,384.5) scale(1,1.055)" text-anchor="end">2</text>
<text transform="translate(96,304.5) scale(1,1.055)" text-anchor="end">3</text>
<text transform="translate(96,224.5) scale(1,1.055)" text-anchor="end">4</text>
<text transform="translate(96,144.5) scale(1,1.055)" text-anchor="end">5</text>
<text transform="translate(96,64.5) scale(1,1.055)" text-anchor="end">6</text>
</g>
<text class="tt" x="411" y="53" text-anchor="middle">sigma over time, zw=0.25</text>
<text class="tk" transform="translate(410.0,584) scale(1,1.055)" text-anchor="middle">t</text>
<text class="tk" transform="translate(74,300.5) rotate(-90) scale(1,1.055)" text-anchor="middle">sigma</text>
<text class="tk" style="letter-spacing:-0.8px" transform="translate(99.2,55.8) scale(1,1.055)">1e7</text>
</svg>
</body></html>
